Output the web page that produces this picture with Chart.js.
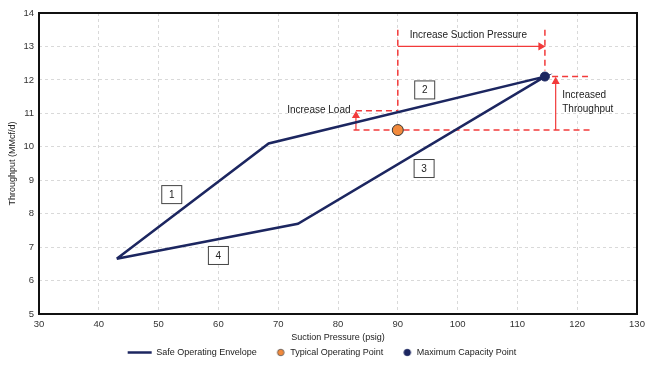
<!DOCTYPE html>
<html>
<head>
<meta charset="utf-8">
<script src="https://cdn.jsdelivr.net/npm/chart.js@4.4.1/dist/chart.umd.min.js"></script>
<style>
  body { margin: 0; background: #fff; }
  #wrap { width: 650px; height: 367px; }
</style>
</head>
<body>
<div id="wrap"><canvas id="myChart"></canvas></div>
<script>
// envelope corners (suction pressure psig, throughput MMcf/d)
const envelopeX = [43, 68.4, 114.6, 73.3, 43];
const envelopeY = [6.65, 10.1, 12.1, 7.7, 6.65];
const typicalPoint = [90, 10.5];
const maxPoint = [114.6, 12.1];

// red guide lines
const guideX = [
  [90, 90], [114.6, 114.6], [115.8, 121.8], [82.6, 122.1], [83, 90]
];
const guideY = [
  [13.5, 11.08], [13.5, 12.28], [12.1, 12.1], [10.5, 10.5], [11.08, 11.08]
];
// arrows (last point is the head)
const arrowX = [[90, 113.9], [116.4, 116.4], [83, 83]];
const arrowY = [[13.0, 13.0], [10.5, 11.95], [10.5, 10.93]];
const arrowRot = [90, 0, 0];

const boxLabels = ["1", "2", "3", "4"];
const boxX = [52.2, 94.5, 94.4, 60.0];
const boxY = [8.57, 11.7, 9.35, 6.75];

const noteText = ["Increase Suction Pressure", "Increase Load", "Increased", "Throughput"];
const noteX = [101.8, 82.1, 117.5, 117.5];
const noteY = [13.32, 11.08, 11.55, 11.12];
const noteAlign = ["center", "right", "left", "left"];

const FONT = "'Liberation Sans', Arial, sans-serif";
const navy = "#1c2660";
const orange = "#f28a3c";
const red = "#f23a3a";

function pts(xs, ys) {
  return xs.map((x, i) => ({ x: x, y: ys[i] }));
}

// little canvas used as legend marker: dot sitting at the right end
function dotMarker(fill, stroke) {
  const c = document.createElement("canvas");
  c.width = 24;
  c.height = 9;
  const g = c.getContext("2d");
  g.beginPath();
  g.arc(19, 4.5, 3.3, 0, Math.PI * 2);
  g.fillStyle = fill;
  g.fill();
  g.strokeStyle = stroke;
  g.lineWidth = 0.8;
  g.stroke();
  return c;
}

const datasets = [
  {
    label: "Safe Operating Envelope",
    data: pts(envelopeX, envelopeY),
    showLine: true,
    borderColor: navy,
    backgroundColor: navy,
    borderWidth: 2.5,
    pointRadius: 0,
    pointStyle: "line",
    order: 2,
  },
];
guideX.forEach((gx, i) => {
  datasets.push({
    label: "guide",
    data: pts(gx, guideY[i]),
    showLine: true,
    borderColor: red,
    borderWidth: 1.5,
    borderDash: [6, 4],
    pointRadius: 0,
    order: 5,
  });
});
arrowX.forEach((ax, i) => {
  datasets.push({
    label: "guide",
    data: pts(ax, arrowY[i]),
    showLine: true,
    borderColor: red,
    backgroundColor: red,
    borderWidth: 1.2,
    pointStyle: "triangle",
    pointRadius: [0, 3.5],
    pointRotation: arrowRot[i],
    order: 5,
  });
});
datasets.push({
  label: "Typical Operating Point",
  data: [{ x: typicalPoint[0], y: typicalPoint[1] }],
  backgroundColor: orange,
  borderColor: "#333",
  borderWidth: 1,
  pointRadius: 5.5,
  pointStyle: "circle",
  order: 0,
});
datasets.push({
  label: "Maximum Capacity Point",
  data: [{ x: maxPoint[0], y: maxPoint[1] }],
  backgroundColor: navy,
  borderColor: navy,
  pointRadius: 4.5,
  pointStyle: "circle",
  order: 0,
});

const extras = {
  id: "extras",
  afterDatasetsDraw(chart) {
    const ctx = chart.ctx;
    const xs = chart.scales.x, ys = chart.scales.y;
    const a = chart.chartArea;
    ctx.save();
    // frame
    ctx.strokeStyle = "#111";
    ctx.lineWidth = 2;
    ctx.strokeRect(a.left, a.top, a.right - a.left, a.bottom - a.top);
    // numbered boxes
    ctx.font = "10px " + FONT;
    ctx.textAlign = "center";
    ctx.textBaseline = "middle";
    boxLabels.forEach((t, i) => {
      const px = xs.getPixelForValue(boxX[i]);
      const py = ys.getPixelForValue(boxY[i]);
      ctx.fillStyle = "#fff";
      ctx.fillRect(px - 10, py - 9, 20, 18);
      ctx.strokeStyle = "#444";
      ctx.lineWidth = 1;
      ctx.strokeRect(px - 10, py - 9, 20, 18);
      ctx.fillStyle = "#222";
      ctx.fillText(t, px, py + 0.5);
    });
    // notes
    ctx.font = "10px " + FONT;
    ctx.fillStyle = "#222";
    noteText.forEach((t, i) => {
      ctx.textAlign = noteAlign[i];
      ctx.fillText(t, xs.getPixelForValue(noteX[i]), ys.getPixelForValue(noteY[i]));
    });
    ctx.restore();
  },
};

const ctx = document.getElementById("myChart");
const myChart = new Chart(ctx, {
  type: "scatter",
  data: { datasets: datasets },
  options: {
    responsive: true,
    maintainAspectRatio: false,
    animation: false,
    layout: { padding: { left: 7, right: 13, top: 13, bottom: 0 } },
    plugins: {
      tooltip: { enabled: false },
      legend: {
        position: "bottom",
        labels: {
          usePointStyle: true,
          pointStyleWidth: 24,
          boxHeight: 5,
          padding: 5,
          color: "#222",
          font: { family: FONT, size: 9 },
          generateLabels: function (chart) {
            const items = Chart.defaults.plugins.legend.labels.generateLabels(chart);
            return items
              .filter((it) => it.text != "guide")
              .sort((p, q) => p.datasetIndex - q.datasetIndex)
              .map((it) => {
                if (it.text == "Typical Operating Point") it.pointStyle = dotMarker(orange, "#555");
                if (it.text == "Maximum Capacity Point") it.pointStyle = dotMarker(navy, navy);
                return it;
              });
          },
        },
      },
    },
    scales: {
      x: {
        type: "linear",
        min: 30,
        max: 130,
        ticks: { stepSize: 10, color: "#333", padding: 5, font: { family: FONT, size: 9.5 } },
        grid: { color: "#d9d9d9", drawTicks: false },
        border: { display: false, dash: [3, 3] },
        title: {
          display: true,
          text: "Suction Pressure (psig)",
          color: "#222",
          padding: { top: 4, bottom: 0 },
          font: { family: FONT, size: 9 },
        },
        afterFit: (s) => { s.height = 29; },
      },
      y: {
        min: 5,
        max: 14,
        ticks: { stepSize: 1, color: "#333", padding: 5, font: { family: FONT, size: 9.5 } },
        grid: { color: "#d9d9d9", drawTicks: false },
        border: { display: false, dash: [3, 3] },
        title: {
          display: true,
          text: "Throughput (MMcf/d)",
          color: "#222",
          padding: { top: 0, bottom: 2 },
          font: { family: FONT, size: 9 },
        },
        afterFit: (s) => { s.width = 32; },
      },
    },
  },
  plugins: [extras],
});
</script>
</body>
</html>
